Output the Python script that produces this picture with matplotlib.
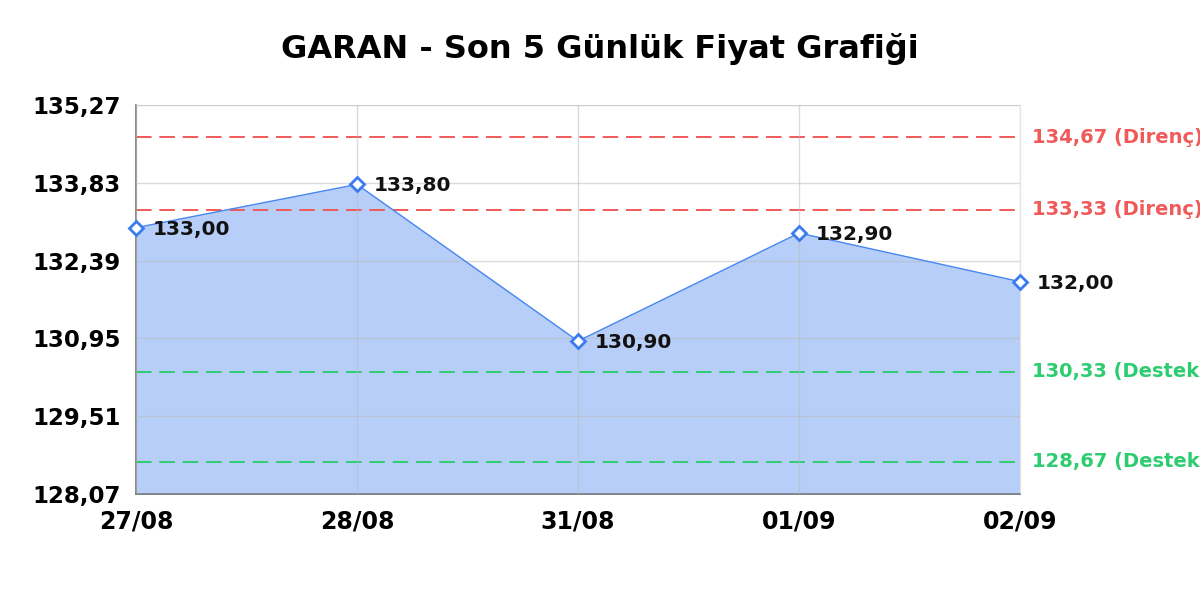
import matplotlib
matplotlib.use('Agg')
import matplotlib.pyplot as plt
from matplotlib.transforms import blended_transform_factory

# veriler
dates = ['27/08', '28/08', '31/08', '01/09', '02/09']
prices = [133.00, 133.80, 130.90, 132.90, 132.00]
resistance = [134.67, 133.33]
support = [130.33, 128.67]
y_ticks = [128.07, 129.51, 130.95, 132.39, 133.83, 135.27]
title = 'GARAN - Son 5 Günlük Fiyat Grafiği'

plt.rcParams['font.family'] = ['DejaVu Sans']


def tr(v):
    return f'{v:.2f}'.replace('.', ',')


fig = plt.figure(figsize=(12, 6), dpi=100)
ax = fig.add_axes([0.1133, 0.1767, 0.7367, 0.6483])

x = list(range(len(dates)))
ax.fill_between(x, prices, y_ticks[0], color='#b7cff8', zorder=1)
ax.plot(x, prices, color='#4a87f0', lw=1.0, zorder=4, clip_on=False,
        marker='D', markersize=7, markerfacecolor='white',
        markeredgecolor='#3b7bf0', markeredgewidth=2)

for xi, p in zip(x, prices):
    ax.annotate(tr(p), (xi, p), xytext=(12, -1), textcoords='offset points',
                ha='left', va='center', fontsize=14.5, fontweight='bold',
                color='#111111', zorder=5)

# direnç / destek çizgileri
trans = blended_transform_factory(ax.transAxes, ax.transData)
for r in resistance:
    ax.axhline(r, color='#f05a5a', lw=1.4, dashes=(8, 4), zorder=2)
    ax.text(1.014, r, f'{tr(r)} (Direnç)', transform=trans, ha='left', va='center',
            fontsize=14, fontweight='bold', color='#f05a5a')
for s in support:
    ax.axhline(s, color='#2ecc71', lw=1.4, dashes=(8, 4), zorder=2)
    ax.text(1.014, s, f'{tr(s)} (Destek)', transform=trans, ha='left', va='center',
            fontsize=14, fontweight='bold', color='#2ecc71')

ax.set_xlim(0, len(dates) - 1)
ax.set_ylim(y_ticks[0], y_ticks[-1])
ax.set_xticks(x)
ax.set_xticklabels(dates, fontsize=17, fontweight='bold')
ax.set_yticks(y_ticks)
ax.set_yticklabels([tr(v) for v in y_ticks], fontsize=16.5, fontweight='bold')
ax.tick_params(length=0)
ax.tick_params(axis='y', pad=11)
ax.tick_params(axis='x', pad=11)

ax.grid(True, color='#b8b8b8', alpha=0.5, lw=1, zorder=2)
ax.set_axisbelow(False)
for side in ['top', 'right']:
    ax.spines[side].set_color('#e4e4e4')
for side in ['left', 'bottom']:
    ax.spines[side].set_color('#777777')
    ax.spines[side].set_linewidth(1.2)

fig.suptitle(title, fontsize=23, fontweight='bold', y=0.945)

fig.savefig('out.png', dpi=100)
